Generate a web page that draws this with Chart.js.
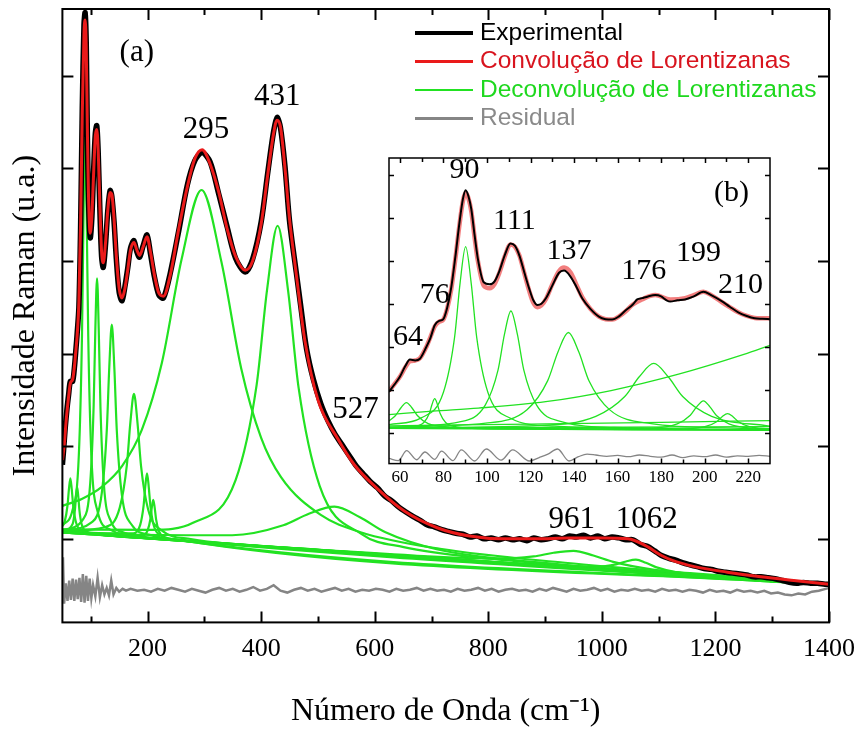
<!DOCTYPE html>
<html>
<head>
<meta charset="utf-8">
<script src="https://cdn.jsdelivr.net/npm/chart.js@4.4.1/dist/chart.umd.min.js"></script>
<style>
  html, body { margin: 0; padding: 0; background: #fff; }
  #wrap { position: relative; width: 866px; height: 731px; }
  #main { position: absolute; left: 0; top: 0; }
  #inset { position: absolute; left: 340px; top: 140px; }
</style>
</head>
<body>
<div id="wrap">
  <canvas id="main" width="866" height="731"></canvas>
  <canvas id="inset" width="440" height="370"></canvas>
</div>
<script>
// ---------- (a) full spectrum (arb. units) ----------
const xTicksMain = [200, 400, 600, 800, 1000, 1200, 1400];
const xMinorMain = [100, 300, 500, 700, 900, 1100, 1300];
const yTicksMain = [1, 2, 3, 4, 5, 6];

const fitMain = [
  [50,1.85],[53,2.0],[57,2.3],[61,2.54],[64,2.68],[68,2.72],[71,2.85],[74,3.05],[76,3.2],[79,3.55],
  [82,4.4],[85,5.6],[88,6.45],[90,6.6],[92,6.3],[94,5.4],[96,4.7],[99,4.3],[102,4.5],[105,4.95],
  [108,5.35],[110.5,5.42],[113,5.2],[116,4.6],[119,4.1],[122,3.98],[126,4.2],[130,4.55],[134,4.74],
  [137,4.72],[141,4.45],[145,4.05],[150,3.7],[155,3.6],[160,3.7],[165,3.9],[170,4.12],[176,4.2],
  [181,4.12],[186,4.06],[192,4.15],[199,4.26],[205,4.1],[212,3.85],[220,3.65],[228,3.62],[240,3.85],
  [255,4.35],[270,4.8],[283,5.1],[296,5.2],[310,5.05],[325,4.75],[340,4.35],[355,4.05],[372,3.9],
  [385,4.0],[400,4.4],[412,4.95],[422,5.38],[428,5.52],[434,5.45],[442,5.0],[450,4.45],[462,3.85],
  [477,3.14],[500,2.5],[535,2.08],[564,1.8],[605,1.54],[652,1.3],[710,1.12],[767,1.03],[826,1.0],
  [884,1.0],[942,1.01],[1000,1.01],[1046,1.0],[1076,0.93],[1105,0.82],[1123,0.77],[1163,0.7],
  [1221,0.64],[1280,0.59],[1338,0.55],[1400,0.51]
];

const expMain = [
  [50,1.8],[52,1.95],[55,2.2],[58,2.4],[61,2.56],[64,2.7],[68,2.7],[71,2.84],[74,3.06],[76,3.22],
  [79,3.5],[82,4.35],[85,5.65],[88,6.55],[90,6.68],[92,6.35],[94,5.35],[96,4.65],[99,4.25],[102,4.48],
  [105,4.98],[108,5.38],[110.5,5.46],[113,5.18],[116,4.55],[119,4.05],[122,3.93],[126,4.18],[130,4.55],
  [134,4.76],[137,4.7],[141,4.42],[145,4.02],[150,3.66],[155,3.57],[160,3.72],[165,3.92],[170,4.14],
  [176,4.22],[181,4.1],[186,4.04],[192,4.16],[199,4.28],[205,4.08],[212,3.83],[220,3.63],[228,3.6],
  [240,3.87],[255,4.33],[270,4.82],[283,5.08],[296,5.17],[310,5.07],[325,4.73],[340,4.37],[355,4.03],
  [372,3.88],[385,4.02],[400,4.42],[412,4.97],[422,5.4],[428,5.55],[434,5.44],[442,5.02],[450,4.43],
  [462,3.87],[470,3.5],[480,3.05],[492,2.72],[505,2.46],[518,2.27],[530,2.13],[542,2.02],[555,1.9],
  [567,1.79],[580,1.7],[592,1.62],[605,1.55],[618,1.46],[630,1.41],[643,1.34],[655,1.29],[668,1.24],
  [680,1.2],[693,1.15],[705,1.13],[718,1.1],[730,1.08],[743,1.06],[755,1.05],[768,1.02],[780,1.03],
  [793,1.0],[805,1.01],[818,0.99],[830,1.01],[843,0.99],[855,1.0],[868,0.98],[880,1.01],[893,0.99],
  [905,1.0],[918,1.02],[930,1.0],[943,1.03],[955,1.02],[968,1.04],[980,1.01],[993,1.03],[1005,1.0],
  [1018,1.02],[1030,1.01],[1043,0.99],[1055,0.99],[1068,0.94],[1080,0.92],[1093,0.87],[1105,0.82],
  [1118,0.79],[1130,0.77],[1143,0.74],[1155,0.72],[1168,0.7],[1180,0.68],[1193,0.67],[1205,0.65],
  [1218,0.64],[1230,0.63],[1243,0.62],[1255,0.61],[1268,0.59],[1280,0.59],[1293,0.58],[1305,0.57],
  [1318,0.55],[1330,0.53],[1343,0.52],[1355,0.53],[1368,0.52],[1380,0.52],[1393,0.51],[1400,0.51]
];

const residualMain = [
  [50,0.35],[51,0.8],[53,0.3],[56,0.52],[59,0.33],[62,0.55],[65,0.34],[68,0.57],[71,0.33],[74,0.56],
  [77,0.35],[80,0.58],[83,0.32],[86,0.62],[89,0.31],[92,0.6],[95,0.33],[98,0.57],[101,0.36],[104,0.5],
  [108,0.38],[112,0.58],[116,0.37],[120,0.5],[124,0.4],[128,0.47],[132,0.39],[136,0.55],[140,0.4],
  [145,0.47],[150,0.43],[156,0.46],[162,0.44],[170,0.46],[182,0.44],[194,0.45],[206,0.43],[218,0.46],
  [230,0.44],[242,0.47],[254,0.45],[266,0.43],[278,0.46],[290,0.44],[302,0.42],[314,0.45],[326,0.47],
  [338,0.44],[350,0.46],[362,0.43],[374,0.45],[386,0.48],[398,0.44],[410,0.46],[422,0.5],[434,0.44],
  [446,0.42],[458,0.45],[470,0.47],[482,0.44],[494,0.46],[506,0.43],[518,0.45],[530,0.47],[542,0.44],
  [554,0.46],[566,0.43],[578,0.45],[590,0.44],[602,0.46],[614,0.45],[626,0.43],[638,0.46],[650,0.44],
  [662,0.45],[674,0.47],[686,0.44],[698,0.46],[710,0.44],[722,0.45],[734,0.43],[746,0.46],[758,0.44],
  [770,0.45],[782,0.47],[794,0.44],[806,0.46],[818,0.43],[830,0.45],[842,0.46],[854,0.44],[866,0.45],
  [878,0.43],[890,0.46],[902,0.44],[914,0.47],[926,0.45],[938,0.43],[950,0.46],[962,0.44],[974,0.45],
  [986,0.47],[998,0.44],[1010,0.46],[1022,0.43],[1034,0.45],[1046,0.44],[1058,0.46],[1070,0.44],
  [1082,0.45],[1094,0.43],[1106,0.46],[1118,0.44],[1130,0.45],[1142,0.43],[1154,0.45],[1166,0.44],
  [1178,0.42],[1190,0.45],[1202,0.43],[1214,0.44],[1226,0.42],[1238,0.45],[1250,0.43],[1262,0.44],
  [1274,0.42],[1286,0.44],[1298,0.41],[1310,0.42],[1322,0.4],[1334,0.39],[1346,0.41],[1358,0.4],
  [1370,0.43],[1382,0.44],[1394,0.46],[1400,0.47]
];

// Lorentzian components as drawn (each one sits on the common baseline)
const lor64 = [[50,1.136],[54,1.185],[59,1.36],[61.5,1.536],[64,1.653],[66.5,1.534],[69,1.356],[74,1.177],[84,1.09],[104,1.055],[200,1.006],[1400,0.502]];
const lor76 = [[50,1.081],[68,1.161],[72,1.31],[74,1.459],[76,1.558],[78,1.457],[80,1.306],[84,1.155],[92,1.08],[108,1.053],[200,1.006],[1400,0.502]];
const lor90 = [[50,1.148],[68,1.313],[79,1.913],[84.5,3.195],[87.25,4.477],[90,5.332],[92.75,4.475],[95.5,3.19],[101,1.904],[112,1.295],[134,1.1],[200,1.017],[400,0.923],[1400,0.502]];
const lor111 = [[50,1.096],[87,1.216],[99,1.602],[105,2.431],[108,3.261],[111,3.813],[114,3.258],[117,2.426],[123,1.592],[135,1.196],[159,1.066],[250,0.99],[1400,0.502]];
const lor137 = [[50,1.092],[102,1.181],[119.4,1.496],[128.2,2.176],[132.6,2.858],[137,3.312],[141.4,2.855],[145.8,2.169],[154.6,1.481],[172,1.152],[207,1.038],[350,0.947],[1400,0.502]];
const lor176 = [[50,1.084],[126,1.128],[151,1.337],[163.5,1.796],[169.75,2.259],[176,2.566],[182.25,2.253],[188.5,1.786],[201,1.316],[226,1.086],[276,0.998],[500,0.882],[1400,0.502]];
const lor199 = [[50,1.07],[175,1.058],[187,1.151],[193,1.359],[196,1.568],[199,1.706],[202,1.565],[205,1.354],[211,1.141],[223,1.037],[247,0.997],[1400,0.502]];
const lor210 = [[50,1.069],[190,1.035],[200,1.09],[205,1.214],[207.5,1.339],[210,1.422],[212.5,1.338],[215,1.21],[220,1.082],[230,1.018],[250,0.991],[1400,0.502]];
const lor295 = [[50,1.356],[85,1.434],[120,1.564],[155,1.785],[190,2.179],[225,2.896],[260,4.021],[295,4.766],[330,3.991],[365,2.837],[400,2.091],[435,1.667],[505,1.258],[575,1.072],[715,0.893],[935,0.742],[1155,0.63],[1400,0.517]];
const lor431 = [[50,1.102],[207,1.097],[281,1.176],[355,1.635],[392,2.66],[410.5,3.694],[429,4.38],[447.5,3.678],[466,2.629],[503,1.573],[577,1.052],[651,0.911],[799,0.788],[1100,0.639],[1400,0.507]];
const lor527 = [[50,1.085],[169,1.047],[349,1.039],[439,1.146],[484,1.271],[529,1.348],[574,1.233],[619,1.07],[709,0.888],[889,0.745],[1249,0.572],[1400,0.507]];
const lor961 = [[50,1.07],[670,0.82],[810,0.786],[880,0.81],[915,0.85],[950,0.871],[985,0.82],[1020,0.752],[1090,0.668],[1230,0.584],[1400,0.506]];
const lor1062 = [[50,1.069],[920,0.712],[990,0.7],[1025,0.725],[1042.5,0.756],[1060,0.775],[1077.5,0.741],[1095,0.695],[1130,0.641],[1200,0.594],[1400,0.502]];
const baseMain = [[50,1.069],[1400,0.502]];
const mainComponents = [lor64, lor76, lor90, lor111, lor137, lor176, lor199, lor210, lor295, lor431, lor527, lor961, lor1062, baseMain];

// ---------- (b) zoom on 55-230 cm-1 ----------
const xTicksInset = [60, 80, 100, 120, 140, 160, 180, 200, 220];
const xMinorInset = [70, 90, 110, 130, 150, 170, 190, 210];
const yTicksInset = [0, 1, 2, 3, 4, 5, 6];

const expInset = [
  [55,0.95],[57.5,1.12],[60,1.3],[62.5,1.55],[64.6,1.7],[67,1.68],[69.2,1.72],[72.2,2.0],[74,2.2],[76,2.5],
  [78,2.6],[79.8,2.63],[81.7,2.9],[83.6,3.38],[85.5,4.1],[87.4,4.9],[89,5.45],[90.2,5.64],[91.5,5.5],
  [92.8,5.2],[94.3,4.6],[95.8,4.05],[98.5,3.5],[101.2,3.45],[103.5,3.52],[105.7,3.76],[108.3,4.15],
  [110.8,4.4],[112.8,4.35],[114.9,4.12],[117.2,3.72],[119.4,3.35],[121.3,3.08],[123.2,2.97],[125,3.0],
  [127,3.12],[130,3.42],[133.1,3.72],[135.4,3.77],[138.5,3.62],[141,3.4],[143.8,3.12],[147.5,2.88],
  [151.4,2.7],[154.5,2.64],[157.5,2.63],[160.5,2.7],[163.6,2.84],[167,2.98],[169,3.1],[171.2,3.13],
  [174,3.17],[177.3,3.2],[180,3.17],[182.5,3.08],[184.2,3.05],[187.5,3.08],[191,3.1],[195,3.17],
  [199.4,3.28],[203,3.2],[207.8,3.06],[211.5,2.93],[215.4,2.8],[219,2.72],[223,2.66],[226.5,2.65],[230,2.64]
];
const fitInset = [
  [55,0.97],[57.5,1.13],[60,1.3],[62.5,1.52],[64.6,1.66],[67,1.68],[69.2,1.73],[72.2,2.0],[74,2.22],[76,2.47],
  [78,2.58],[79.8,2.62],[81.7,2.88],[83.6,3.34],[85.5,4.05],[87.4,4.85],[89,5.4],[90.2,5.58],[91.5,5.45],
  [92.8,5.15],[94.3,4.55],[95.8,4.0],[98.5,3.42],[101.2,3.36],[103.5,3.46],[105.7,3.72],[108.3,4.12],
  [110.8,4.38],[112.8,4.33],[114.9,4.12],[117.2,3.7],[119.4,3.3],[121.3,3.02],[123.2,2.92],[125,2.96],
  [127,3.1],[130,3.45],[133.1,3.76],[135.4,3.84],[138.5,3.72],[141,3.45],[143.8,3.15],[147.5,2.88],
  [151.4,2.7],[154.5,2.64],[157.5,2.63],[160.5,2.7],[163.6,2.82],[167,2.98],[171.2,3.1],[177.3,3.2],
  [184.2,3.1],[191,3.13],[195,3.2],[199.4,3.28],[203,3.2],[207.8,3.04],[211.5,2.92],[215.4,2.8],
  [219,2.72],[223,2.67],[230,2.66]
];
const residualInset = [
  [55,-0.6],[59.3,-0.65],[63.1,-0.42],[67.7,-0.63],[71.5,-0.45],[76,-0.62],[79.1,-0.43],[84.4,-0.65],
  [88.2,-0.4],[94.3,-0.66],[99.7,-0.38],[106.5,-0.64],[111.8,-0.4],[119.5,-0.66],[124,-0.58],[128,-0.5],
  [132.4,-0.38],[137.7,-0.66],[142,-0.56],[146,-0.5],[150,-0.52],[155,-0.55],[160,-0.53],[165,-0.56],
  [170,-0.52],[175,-0.55],[180,-0.57],[185,-0.52],[190,-0.58],[195,-0.54],[200,-0.56],[205,-0.52],
  [210,-0.57],[215,-0.54],[220,-0.55],[225,-0.53],[230,-0.55]
];
const in64 = [[55,0.27],[58,0.4],[60.5,0.58],[63,0.7],[65.5,0.58],[68,0.4],[73,0.21],[83,0.13],[103,0.09],[230,0.06]];
const in76 = [[55,0.11],[66,0.135],[71,0.235],[73.5,0.445],[74.75,0.655],[76,0.79],[77.25,0.655],[78.5,0.445],[81,0.235],[86,0.135],[96,0.1],[230,0.06]];
const in90 = [[55,0.187],[69.8,0.343],[80,0.94],[85.1,2.21],[87.65,3.48],[90.2,4.33],[92.75,3.48],[95.3,2.21],[100.4,0.94],[110.6,0.34],[131,0.15],[230,0.066]];
const in111 = [[55,0.13],[87.4,0.25],[99.2,0.64],[105.1,1.46],[108.05,2.29],[111,2.83],[113.95,2.29],[116.9,1.46],[122.8,0.64],[134.6,0.25],[158.2,0.12],[230,0.067]];
const in137 = [[55,0.13],[99.4,0.22],[118.4,0.535],[127.9,1.21],[132.65,1.885],[137.4,2.33],[142.15,1.88],[146.9,1.2],[156.4,0.53],[175.4,0.21],[213.4,0.105],[230,0.083]];
const in176 = [[55,0.118],[123.4,0.165],[150,0.38],[163.3,0.84],[169.95,1.3],[176.6,1.61],[183.25,1.3],[189.9,0.84],[203.2,0.38],[230,0.15]];
const in199 = [[55,0.1],[175.4,0.11],[187.4,0.205],[193.4,0.405],[196.4,0.605],[199.4,0.74],[202.4,0.6],[205.4,0.4],[211.4,0.2],[223.4,0.1],[230,0.085]];
const in210 = [[55,0.1],[190.5,0.09],[200.5,0.145],[205.5,0.255],[208,0.37],[210.5,0.445],[213,0.37],[215.5,0.255],[220.5,0.14],[230,0.085]];
const in295 = [[55,0.42],[75,0.5],[96,0.57],[127,0.72],[157,0.98],[188,1.36],[218,1.82],[230,2.03]];
const in431 = [[55,0.16],[120,0.2],[180,0.24],[230,0.28]];
const in527 = [[55,0.11],[230,0.14]];
const inBase = [[55,0.1],[230,0.06]];
const insetComponents = [in64, in76, in90, in111, in137, in176, in199, in210, in295, in431, in527, inBase];

// ---------- styling ----------
const RED = '#ea1a1a';
const GREEN = '#22e222';
const GRAY = '#858585';
const SERIF = '"Liberation Serif", "Times New Roman", serif';
const SANS = '"Liberation Sans", Arial, sans-serif';

const toXY = pts => pts.map(([x, y]) => ({ x, y }));
function line(pts, color, width, extra) {
  return Object.assign({
    data: toXY(pts), borderColor: color, borderWidth: width,
    pointRadius: 0, fill: false, cubicInterpolationMode: 'monotone'
  }, extra || {});
}

// box around the plot with inward ticks on all four sides
const framePlugin = {
  id: 'frame',
  afterDraw(chart, args, o) {
    const { ctx, chartArea: a, scales: { x, y } } = chart;
    ctx.save();
    ctx.strokeStyle = '#000';
    ctx.lineWidth = o.lineWidth;
    ctx.beginPath();
    const vTick = (v, len) => {
      const p = Math.round(x.getPixelForValue(v)) + 0.5;
      ctx.moveTo(p, a.bottom); ctx.lineTo(p, a.bottom - len);
      ctx.moveTo(p, a.top); ctx.lineTo(p, a.top + len);
    };
    o.xMajor.forEach(v => vTick(v, o.major));
    o.xMinor.forEach(v => vTick(v, o.minor));
    o.yMajor.forEach(v => {
      const p = Math.round(y.getPixelForValue(v)) + 0.5;
      ctx.moveTo(a.left, p); ctx.lineTo(a.left + o.major, p);
      ctx.moveTo(a.right, p); ctx.lineTo(a.right - o.major, p);
    });
    ctx.stroke();
    ctx.strokeRect(a.left, a.top, a.right - a.left, a.bottom - a.top);
    ctx.restore();
  }
};

// peak labels, placed in data coordinates
const peakLabelPlugin = {
  id: 'peakLabels',
  afterDraw(chart, args, o) {
    const { ctx, scales: { x, y } } = chart;
    ctx.save();
    ctx.fillStyle = '#000';
    ctx.font = o.font;
    ctx.textAlign = 'center';
    ctx.textBaseline = 'middle';
    o.items.forEach(([t, vx, vy]) => ctx.fillText(t, x.getPixelForValue(vx), y.getPixelForValue(vy)));
    ctx.restore();
  }
};

const legendPlugin = {
  id: 'sampleLegend',
  afterDraw(chart, args, o) {
    const { ctx } = chart;
    ctx.save();
    ctx.font = o.font;
    ctx.textBaseline = 'middle';
    o.items.forEach((it, i) => {
      const yy = o.top + i * o.step;
      ctx.strokeStyle = it.color;
      ctx.lineWidth = it.width;
      ctx.beginPath();
      ctx.moveTo(o.left, yy); ctx.lineTo(o.left + o.len, yy);
      ctx.stroke();
      ctx.fillStyle = it.text;
      ctx.fillText(it.label, o.left + o.len + 7, yy);
    });
    ctx.restore();
  }
};

// ---------- main chart ----------
new Chart(document.getElementById('main'), {
  type: 'line',
  data: {
    datasets: [
      line(fitMain, RED, 3),
      line(expMain, '#000', 5.5, { cubicInterpolationMode: 'default', tension: 0.3 }),
      ...mainComponents.map(c => line(c, GREEN, 2.2)),
      line(residualMain, GRAY, 2.5, { cubicInterpolationMode: 'default', tension: 0 })
    ]
  },
  options: {
    responsive: false,
    animation: false,
    devicePixelRatio: 1,
    layout: { padding: { left: 2, right: 30, top: 9, bottom: 0 } },
    plugins: {
      legend: { display: false },
      tooltip: { enabled: false },
      frame: { lineWidth: 2, major: 11, minor: 6, xMajor: xTicksMain, xMinor: xMinorMain, yMajor: yTicksMain },
      peakLabels: {
        font: '31px ' + SERIF,
        items: [['(a)', 181, 6.25], ['295', 303, 5.42], ['431', 428.5, 5.77], ['527', 566, 2.39], ['961', 947, 1.21], ['1062', 1079, 1.21]]
      },
      sampleLegend: {
        font: '24.5px ' + SANS, left: 415, len: 58, top: 33, step: 28.5,
        items: [
          { label: 'Experimental', color: '#000', width: 4, text: '#000' },
          { label: 'Convolução de Lorentizanas', color: RED, width: 3, text: '#d8141e' },
          { label: 'Deconvolução de Lorentizanas', color: GREEN, width: 2, text: '#1ed81e' },
          { label: 'Residual', color: GRAY, width: 3, text: '#8a8a8a' }
        ]
      }
    },
    scales: {
      x: {
        type: 'linear', min: 50, max: 1400,
        afterBuildTicks: s => { s.ticks = xTicksMain.map(v => ({ value: v })); },
        ticks: { color: '#000', font: { family: SERIF, size: 26 }, padding: 11, maxRotation: 0, callback: v => String(v) },
        grid: { display: false, drawTicks: false },
        border: { display: false },
        title: { display: true, text: 'Número de Onda (cm⁻¹)', color: '#000', font: { family: SERIF, size: 32 }, padding: { top: 17, bottom: 0 } }
      },
      y: {
        type: 'linear', min: 0.098, max: 6.72,
        afterBuildTicks: s => { s.ticks = yTicksMain.map(v => ({ value: v })); },
        ticks: { display: false },
        grid: { display: false, drawTicks: false },
        border: { display: false },
        title: { display: true, text: 'Intensidade Raman (u.a.)', color: '#000', font: { family: SERIF, size: 32 }, padding: { top: 4, bottom: 18 } }
      }
    }
  },
  plugins: [framePlugin, peakLabelPlugin, legendPlugin]
});

// ---------- inset chart ----------
new Chart(document.getElementById('inset'), {
  type: 'line',
  data: {
    datasets: [
      line(expInset, '#000', 2),
      line(fitInset, 'rgba(234,40,40,0.6)', 4.5),
      ...insetComponents.map(c => line(c, GREEN, 1.3)),
      line(residualInset, GRAY, 1.3)
    ]
  },
  options: {
    responsive: false,
    animation: false,
    devicePixelRatio: 1,
    layout: { padding: { left: 49, right: 10, top: 18, bottom: 18 } },
    plugins: {
      legend: { display: false },
      tooltip: { enabled: false },
      frame: { lineWidth: 1.5, major: 5, minor: 4, xMajor: xTicksInset, xMinor: xMinorInset, yMajor: yTicksInset },
      peakLabels: {
        font: '30px ' + SERIF,
        items: [['(b)', 212.3, 5.58], ['90', 89.7, 6.11], ['111', 112.6, 4.92], ['137', 137.7, 4.23], ['176', 172, 3.75],
                ['199', 197.2, 4.17], ['210', 216.4, 3.43], ['76', 76, 3.2], ['64', 63.7, 2.22]]
      }
    },
    scales: {
      x: {
        type: 'linear', min: 55, max: 230,
        afterBuildTicks: s => { s.ticks = xTicksInset.map(v => ({ value: v })); },
        ticks: { color: '#000', font: { family: SERIF, size: 17 }, padding: 4, maxRotation: 0, callback: v => String(v) },
        grid: { display: false, drawTicks: false },
        border: { display: false }
      },
      y: {
        type: 'linear', min: -0.72, max: 6.39, display: false
      }
    }
  },
  plugins: [framePlugin, peakLabelPlugin]
});
</script>
</body>
</html>
